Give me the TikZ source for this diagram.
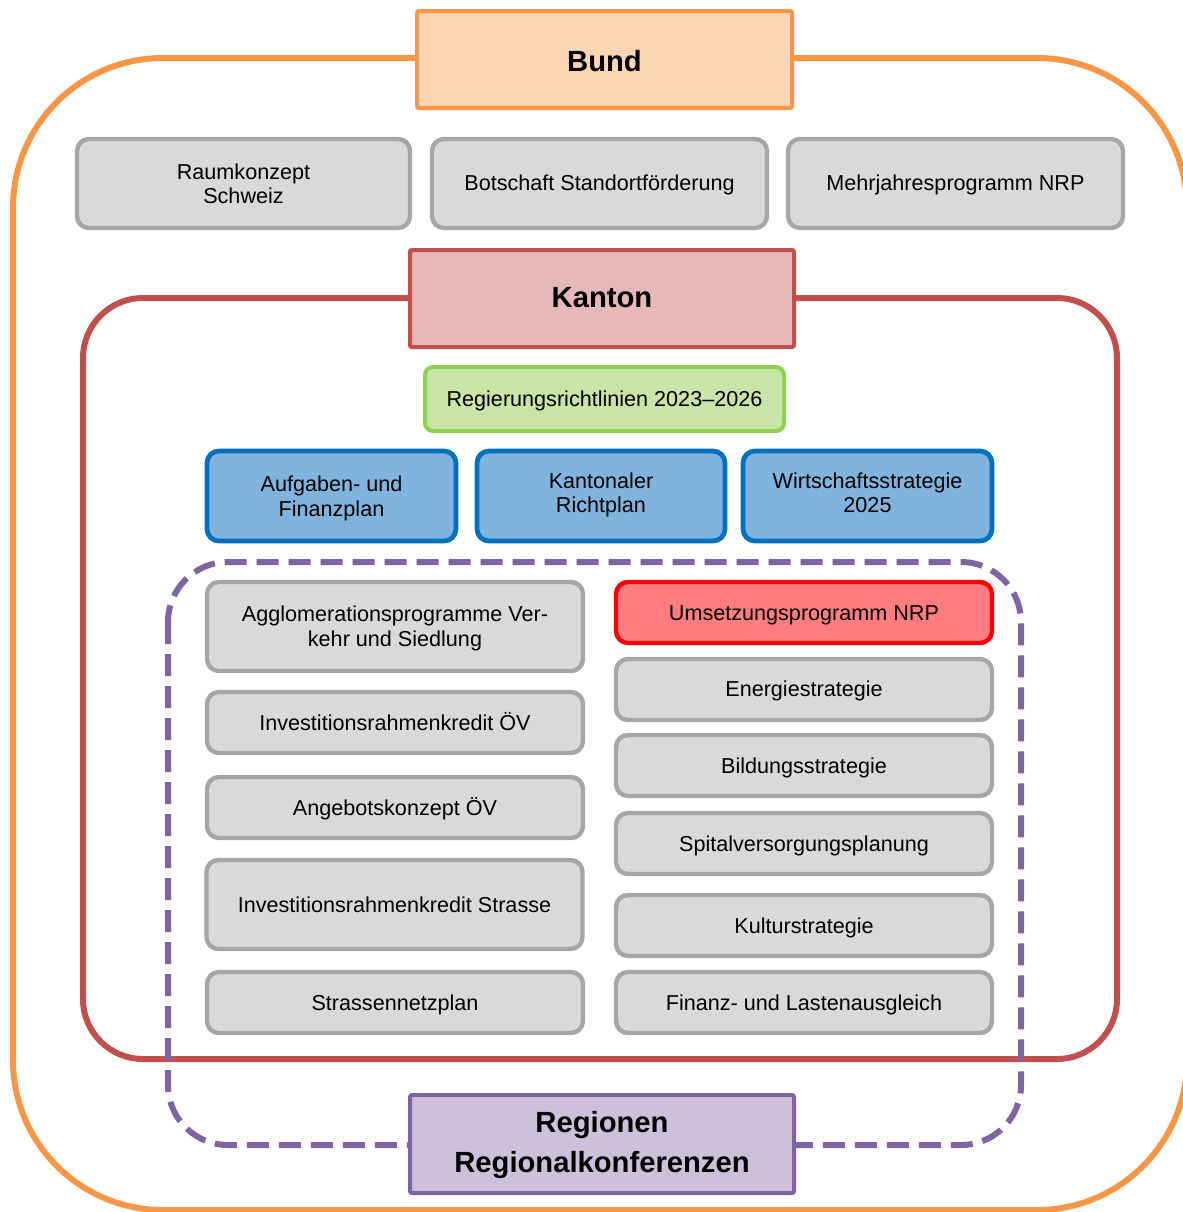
\documentclass[tikz,border=0pt]{standalone}
\usepackage{fontspec}
\setmainfont{Liberation Sans}
\definecolor{orangeL}{HTML}{F79646}
\definecolor{orangeF}{HTML}{FCD5B5}
\definecolor{redL}{HTML}{C0504D}
\definecolor{redF}{HTML}{E6B9B8}
\definecolor{greenL}{HTML}{92D050}
\definecolor{greenF}{HTML}{C8E4A6}
\definecolor{blueL}{HTML}{0070C0}
\definecolor{blueF}{HTML}{80B4DE}
\definecolor{grayL}{HTML}{A6A6A6}
\definecolor{grayF}{HTML}{D9D9D9}
\definecolor{hotL}{HTML}{FF0000}
\definecolor{hotF}{HTML}{FF7C80}
\definecolor{purpL}{HTML}{8064A2}
\definecolor{purpF}{HTML}{CCC0DA}
% place text so that its first baseline lies #1 below the node centre
\newcommand\bltext[2]{\raisebox{-#1}[0pt][0pt]{\begin{tabular}[t]{@{}c@{}}#2\end{tabular}}}
\tikzset{
  base/.style={inner sep=0pt, font=\fontsize{10.8}{12.3}\selectfont},
  graybox/.style={base, draw=grayL, fill=grayF, line width=2.2pt, rounded corners=6pt},
  bluebox/.style={base, draw=blueL, fill=blueF, line width=2.4pt, rounded corners=6pt},
  greenbox/.style={base, draw=greenL, fill=greenF, line width=2pt, rounded corners=4pt},
  hotbox/.style={base, draw=hotL, fill=hotF, line width=2.2pt, rounded corners=6pt},
  titlebox/.style={inner sep=0pt, line width=2pt, rounded corners=1pt,
     font=\fontsize{14.6}{19.8}\selectfont\bfseries},
  frame/.style={line width=3pt}
}
\begin{document}
\begin{tikzpicture}[x=0.5pt,y=-0.5pt]
\useasboundingbox (0,0) rectangle (1183,1212);
% outer frames
\draw[frame, draw=orangeL, rounded corners=75pt] (13,58) rectangle (1187,1210);
\draw[frame, draw=redL, rounded corners=30pt] (83,298) rectangle (1117,1059);
\draw[frame, draw=purpL, dash pattern=on 11pt off 5pt, rounded corners=30pt] (168,562) rectangle (1021,1145);
% Bund level
\node[titlebox, draw=orangeL, fill=orangeF, minimum width=187.5pt, minimum height=48.5pt] (bund) at (604.5,59.5) {\bltext{6pt}{Bund}};
\node[graybox, minimum width=166.5pt, minimum height=44.5pt] (raum) at (243.5,183.5) {\bltext{-2.1pt}{Raumkonzept\\Schweiz}};
\node[graybox, minimum width=167.5pt, minimum height=44.5pt] (botsch) at (599.5,183.5) {\bltext{3.7pt}{Botschaft Standortförderung}};
\node[graybox, minimum width=167.5pt, minimum height=44.5pt] (mjp) at (955.5,183.5) {\bltext{3.7pt}{Mehrjahresprogramm NRP}};
% Kanton level
\node[titlebox, draw=redL, fill=redF, minimum width=192pt, minimum height=48.5pt] (kanton) at (602,298.5) {\bltext{4.6pt}{Kanton}};
\node[greenbox, minimum width=179.5pt, minimum height=32pt] (rrl) at (604.5,399) {\bltext{3.85pt}{Regierungsrichtlinien 2023–2026}};
\node[bluebox, minimum width=124.5pt, minimum height=45pt] (afp) at (331.5,496) {\bltext{-2.15pt}{Aufgaben- und\\Finanzplan}};
\node[bluebox, minimum width=124pt, minimum height=45pt] (krp) at (601,496) {\bltext{-3.85pt}{Kantonaler\\Richtplan}};
\node[bluebox, minimum width=124.5pt, minimum height=45pt] (ws) at (867.5,496) {\bltext{-3.85pt}{Wirtschaftsstrategie\\2025}};
% left column
\node[graybox, minimum width=188pt, minimum height=44.5pt] (agglo) at (395,626.5) {\bltext{-2.4pt}{Agglomerationsprogramme Ver-\\kehr und Siedlung}};
\node[graybox, minimum width=188pt, minimum height=30.5pt] (irov) at (395,722.5) {\bltext{3.75pt}{Investitionsrahmenkredit ÖV}};
\node[graybox, minimum width=188pt, minimum height=30.5pt] (akov) at (395,807.5) {\bltext{3.75pt}{Angebotskonzept ÖV}};
\node[graybox, minimum width=188pt, minimum height=44.5pt] (irs) at (394.5,904.5) {\bltext{3.75pt}{Investitionsrahmenkredit Strasse}};
\node[graybox, minimum width=188pt, minimum height=30.5pt] (snp) at (395,1002.5) {\bltext{3.75pt}{Strassennetzplan}};
% right column
\node[hotbox, minimum width=188pt, minimum height=30.5pt] (unrp) at (804,612.5) {\bltext{3.75pt}{Umsetzungsprogramm NRP}};
\node[graybox, minimum width=188pt, minimum height=30.5pt] (energie) at (804,689.5) {\bltext{3.65pt}{Energiestrategie}};
\node[graybox, minimum width=188pt, minimum height=30.5pt] (bildung) at (804,765.5) {\bltext{3.75pt}{Bildungsstrategie}};
\node[graybox, minimum width=188pt, minimum height=30.5pt] (spital) at (804,843.5) {\bltext{3.75pt}{Spitalversorgungsplanung}};
\node[graybox, minimum width=188pt, minimum height=30.5pt] (kultur) at (804,925.5) {\bltext{3.75pt}{Kulturstrategie}};
\node[graybox, minimum width=188pt, minimum height=30.5pt] (fla) at (804,1002.5) {\bltext{4pt}{Finanz- und Lastenausgleich}};
% Regionen
\node[titlebox, draw=purpL, fill=purpF, minimum width=192pt, minimum height=49pt] (reg) at (602,1144) {\bltext{-5.65pt}{Regionen\\Regionalkonferenzen}};
\end{tikzpicture}
\end{document}
